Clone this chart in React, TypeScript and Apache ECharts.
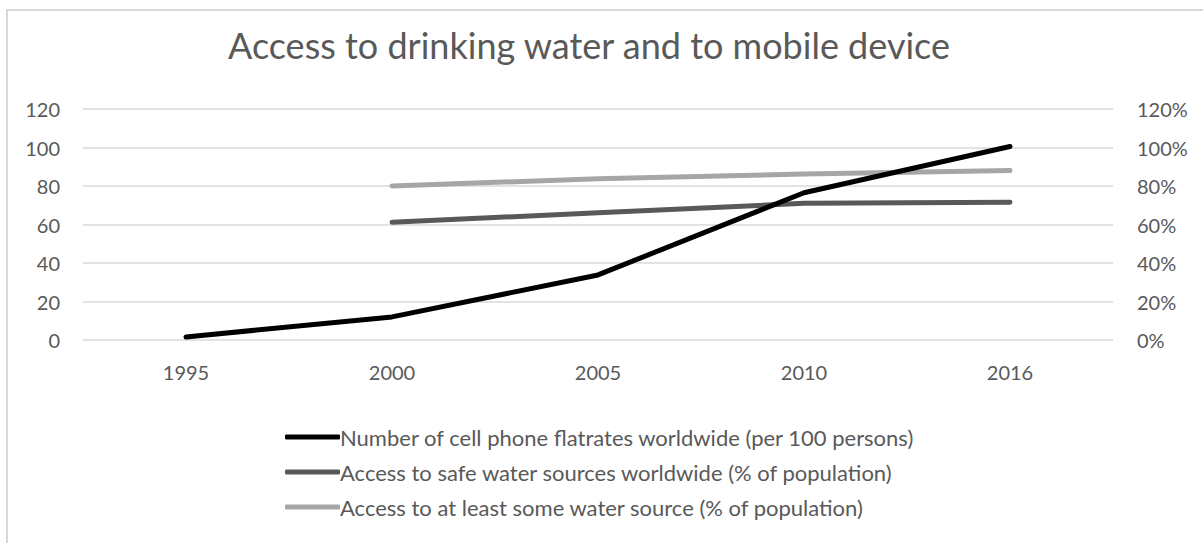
import React, { useEffect, useRef } from "react";
import * as echarts from "echarts";

// Years shown on the category axis
const years = ["1995", "2000", "2005", "2010", "2016"];

// Cell phone flatrates per 100 persons (left axis)
const cellPhonePer100 = [1.6, 12, 33.8, 76.5, 100.5];

// Share of population with access to safe water sources, % (right axis)
const safeWaterPct = [null, 61.2, 66.1, 71, 71.6];

// Share of population with access to at least some water source, % (right axis)
const someWaterPct = [null, 80, 83.8, 86.2, 88];

const leftTicks = { min: 0, max: 120, interval: 20 };
const rightTicks = { min: 0, max: 120, interval: 20 };

const FONT = "Lato, 'Open Sans', sans-serif";
const LABEL_COLOR = "#595959";
const GRID_COLOR = "#d9d9d9";

export default function App() {
  const ref = useRef<HTMLDivElement>(null);

  useEffect(() => {
    if (!ref.current) return;
    const chart = echarts.init(ref.current, null, { renderer: "svg" });

    chart.setOption({
      animation: false,
      backgroundColor: "#ffffff",
      textStyle: { fontFamily: FONT },
      title: {
        text: "Access to drinking water and to mobile device",
        left: 223,
        top: 22,
        textStyle: {
          fontFamily: FONT,
          fontSize: 36,
          fontWeight: "normal",
          color: LABEL_COLOR,
        },
      },
      graphic: [
        {
          type: "rect",
          silent: true,
          shape: { x: 7, y: 10, width: 1400, height: 700 },
          style: { fill: "none", stroke: GRID_COLOR, lineWidth: 2 },
          z: -1,
        },
      ],
      grid: { left: 83, right: 90, top: 109, bottom: 203 },
      xAxis: {
        type: "category",
        data: years,
        boundaryGap: true,
        axisLine: { show: false },
        axisTick: { show: false },
        axisLabel: {
          color: LABEL_COLOR,
          fontSize: 20,
          fontFamily: FONT,
          margin: 22,
        },
      },
      yAxis: [
        {
          type: "value",
          ...leftTicks,
          axisLine: { show: false },
          axisTick: { show: false },
          splitLine: { lineStyle: { color: GRID_COLOR, width: 1.5 } },
          axisLabel: {
            color: LABEL_COLOR,
            fontSize: 20,
            fontFamily: FONT,
            margin: 23,
          },
        },
        {
          type: "value",
          ...rightTicks,
          position: "right",
          axisLine: { show: false },
          axisTick: { show: false },
          splitLine: { show: false },
          axisLabel: {
            color: LABEL_COLOR,
            fontSize: 20,
            fontFamily: FONT,
            margin: 24,
            formatter: "{value}%",
          },
        },
      ],
      legend: {
        orient: "vertical",
        left: 280,
        top: 421,
        itemWidth: 55,
        itemHeight: 5,
        itemGap: 13,
        icon: "roundRect",
        textStyle: {
          color: LABEL_COLOR,
          fontSize: 22,
          lineHeight: 22,
          fontFamily: FONT,
          padding: [0, 0, 0, -5],
        },
        data: [
          "Number of cell phone flatrates worldwide (per 100 persons)",
          "Access to safe water sources worldwide (% of population)",
          "Access to at least some water source (% of population)",
        ],
      },
      series: [
        {
          name: "Number of cell phone flatrates worldwide (per 100 persons)",
          type: "line",
          yAxisIndex: 0,
          data: cellPhonePer100,
          showSymbol: false,
          symbol: "none",
          color: "#000000",
          lineStyle: { color: "#000000", width: 5, cap: "round", join: "round" },
          z: 3,
        },
        {
          name: "Access to safe water sources worldwide (% of population)",
          type: "line",
          yAxisIndex: 1,
          data: safeWaterPct,
          showSymbol: false,
          symbol: "none",
          color: "#595959",
          lineStyle: { color: "#595959", width: 5, cap: "round", join: "round" },
          z: 2,
        },
        {
          name: "Access to at least some water source (% of population)",
          type: "line",
          yAxisIndex: 1,
          data: someWaterPct,
          showSymbol: false,
          symbol: "none",
          color: "#a6a6a6",
          lineStyle: { color: "#a6a6a6", width: 5, cap: "round", join: "round" },
          z: 2,
        },
      ],
    });

    return () => chart.dispose();
  }, []);

  return (
    <div
      ref={ref}
      style={{
        position: "fixed",
        left: 0,
        top: 0,
        width: 1203,
        height: 543,
      }}
    />
  );
}
